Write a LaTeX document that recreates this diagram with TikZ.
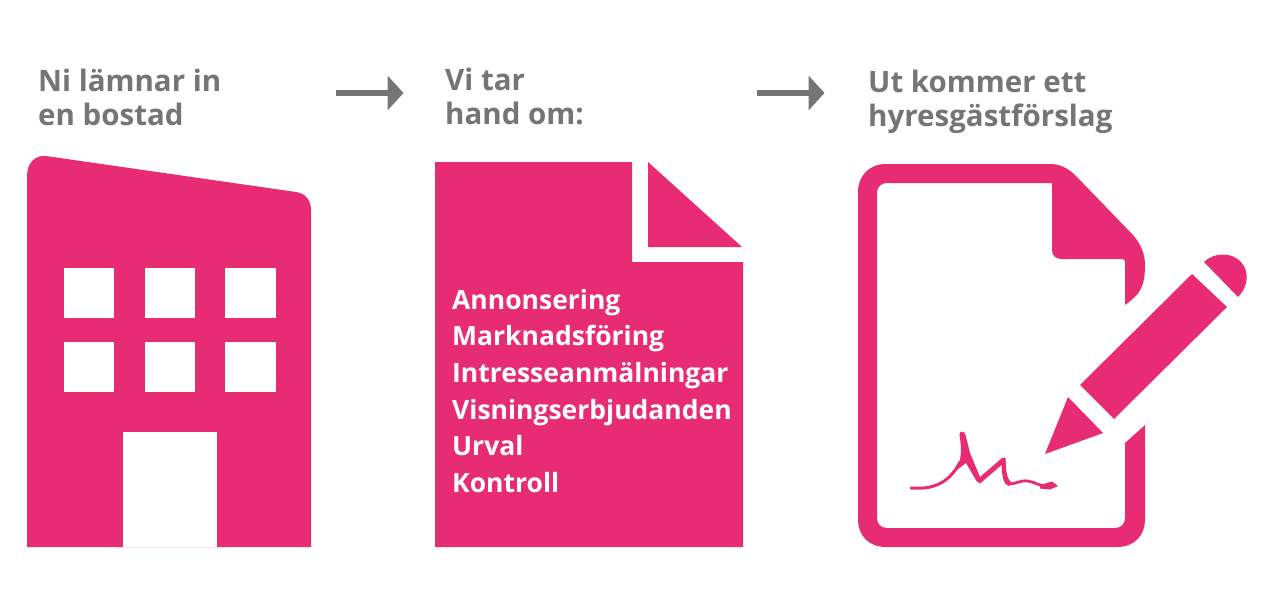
\documentclass[tikz,border=0pt]{standalone}
\usepackage{fontspec}
\setmainfont{Open Sans}
\usetikzlibrary{arrows.meta}
\definecolor{pinkc}{HTML}{E82C74}
\definecolor{grayc}{HTML}{757575}
\tikzset{
  icon/.style={fill=pinkc,draw=none},
  hole/.style={fill=white,draw=none},
  head/.style={anchor=base west,inner sep=0pt,text=grayc,font=\fontsize{29.5}{29.5}\selectfont\bfseries},
  item/.style={anchor=base west,inner sep=0pt,text=white,font=\fontsize{26.5}{26.5}\selectfont\bfseries},
  flow/.style={draw=grayc,line width=6pt,-{Triangle[width=34pt,length=16pt,fill=grayc]}},
  sig/.style={draw=pinkc,line cap=round,line join=round}
}
\begin{document}
\begin{tikzpicture}[x=1pt,y=-1pt]
\useasboundingbox[fill=white] (0,0) rectangle (1271,592);
% headings
\node[head] (h1a) at (38,91) {Ni lämnar in};
\node[head] (h1b) at (38,125) {en bostad};
\node[head] (h2a) at (445,90) {Vi tar};
\node[head] (h2b) at (445,124) {hand om:};
\node[head] (h3a) at (868,92) {Ut kommer ett};
\node[head] (h3b) at (868,126) {hyresgästförslag};
% arrows
\coordinate (a1s) at (336,93); \coordinate (a1e) at (403.5,93);
\coordinate (a2s) at (757,93); \coordinate (a2e) at (824.5,93);
\draw[flow] (a1s) -- (a1e);
\draw[flow] (a2s) -- (a2e);
% building
\path[icon] (27,547) -- (27,176) .. controls (27,163) and (35,155) .. (46,156)
  -- (296,192) .. controls (305,193) and (311,200) .. (311,210) -- (311,547) -- cycle;
\foreach \x/\w in {64/50,145/50,225/51}{
  \path[hole] (\x,268) rectangle ++(\w,50);
  \path[hole] (\x,342) rectangle ++(\w,50);
}
\path[hole] (123,432) rectangle (217,547);
% document
\path[icon] (435,162) -- (632,162) -- (632,262) -- (743,262) -- (743,547) -- (435,547) -- cycle;
\path[icon] (648,162) -- (742,247) -- (648,247) -- cycle;
\node[item] (t1) at (452,309) {Annonsering};
\node[item] (t2) at (452,345) {Marknadsföring};
\node[item] (t3) at (452,382) {Intresseanmälningar};
\node[item] (t4) at (452,419) {Visningserbjudanden};
\node[item] (t5) at (452,455) {Urval};
\node[item] (t6) at (452,492) {Kontroll};
% signed form
\path[icon]
  (1125,305) .. controls (1139,295) and (1145,288) .. (1145,265)
  .. controls (1145,253) and (1140,243) .. (1133,235)
  -- (1076,176) .. controls (1068,168) and (1060,164) .. (1050,164)
  -- (886,164) .. controls (869,164) and (858,176) .. (858,192)
  -- (858,519) .. controls (858,536) and (869,547) .. (886,547)
  -- (1117,547) .. controls (1134,547) and (1145,536) .. (1145,519)
  -- (1145,425) -- (1125,443) -- (1125,518)
  .. controls (1125,524) and (1121,528) .. (1115,528)
  -- (887,528) .. controls (881,528) and (877,524) .. (877,518)
  -- (877,193) .. controls (877,187) and (881,183) .. (887,183)
  -- (1052,183) -- (1052,250) .. controls (1052,256) and (1056,259) .. (1062,259)
  -- (1122,259) .. controls (1124,259) and (1125,260) .. (1125,262) -- cycle;
% pen
\path[icon] (1192,274) -- (1227,307) -- (1114,419) -- (1080,385) -- cycle;
\path[icon] (1204,262) .. controls (1214,252) and (1232,252) .. (1241,262)
  .. controls (1250,272) and (1248,287) .. (1238,297) -- cycle;
\path[icon] (1068,397) -- (1103,433) -- (1045,454) -- cycle;
% signature
\draw[sig,line width=3pt] (911,488) .. controls (926,489) and (947,488) .. (960,462);
\path[icon] (961.5,431.5) .. controls (964,431.5) and (965,433) .. (965.5,435)
  -- (970,453) -- (980,477) -- (1002,458) -- (1005.5,457.5)
  .. controls (1006,468) and (1006,478) .. (1011,482) -- (1009,486)
  .. controls (1004,485) and (1002,478) .. (1001.5,465)
  -- (980,483.5) -- (976.5,481) -- (966,463) -- (957,470)
  .. controls (961,460) and (962,450) .. (959.5,435)
  .. controls (959.5,433) and (960,432) .. (961.5,431.5) -- cycle;
\draw[sig,line width=2.8pt] (1009,484) .. controls (1016,484) and (1020,480) .. (1028,481)
  .. controls (1035,482) and (1038,486) .. (1046,485.5);
\path[icon] (1040,485) -- (1052,481.5) -- (1058,486) -- (1050,489.5) -- (1040,488.5) -- cycle;
\end{tikzpicture}
\end{document}
